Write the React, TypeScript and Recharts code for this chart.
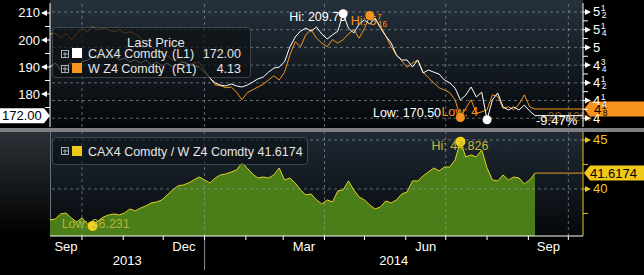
import React from 'react';
import { ComposedChart, Line, Area, XAxis, YAxis, ReferenceLine, ReferenceDot } from 'recharts';

// ---------- data ----------
const dates = [
  '2013-09-07', '2013-09-11', '2013-09-15', '2013-09-19', '2013-09-23', '2013-09-27', '2013-10-01', '2013-10-05', '2013-10-09', '2013-10-13',
  '2013-10-17', '2013-10-21', '2013-10-25', '2013-10-29', '2013-11-02', '2013-11-06', '2013-11-10', '2013-11-14', '2013-11-18', '2013-11-22',
  '2013-11-26', '2013-11-30', '2013-12-04', '2013-12-08', '2013-12-12', '2013-12-16', '2013-12-20', '2013-12-24', '2013-12-28', '2014-01-01',
  '2014-01-05', '2014-01-09', '2014-01-13', '2014-01-17', '2014-01-21', '2014-01-25', '2014-01-29', '2014-02-02', '2014-02-06', '2014-02-10',
  '2014-02-14', '2014-02-18', '2014-02-22', '2014-02-26', '2014-03-02', '2014-03-06', '2014-03-10', '2014-03-14', '2014-03-18', '2014-03-22',
  '2014-03-26', '2014-03-30', '2014-04-03', '2014-04-07', '2014-04-11', '2014-04-15', '2014-04-19', '2014-04-23', '2014-04-27', '2014-05-01',
  '2014-05-05', '2014-05-09', '2014-05-13', '2014-05-17', '2014-05-21', '2014-05-25', '2014-05-29', '2014-06-02', '2014-06-06', '2014-06-10',
  '2014-06-14', '2014-06-18', '2014-06-22', '2014-06-26', '2014-06-30', '2014-07-04', '2014-07-08', '2014-07-12', '2014-07-16', '2014-07-20',
  '2014-07-24', '2014-07-28', '2014-08-01', '2014-08-05', '2014-08-09', '2014-08-13', '2014-08-17', '2014-08-21', '2014-08-25', '2014-08-29',
  '2014-09-02', '2014-09-06',
];

// CAX4 Comdty (L1)
const cax4 = [
  190.0, 191.5, 188.9, 190.4, 191.5, 190.0, 191.9, 192.6, 193.7, 193.3,
  194.4, 193.3, 194.1, 192.6, 193.3, 191.9, 192.6, 191.5, 192.6, 190.7,
  191.9, 190.4, 191.5, 190.0, 191.1, 191.9, 191.1, 190.4, 190.0, 188.1,
  185.9, 184.1, 183.3, 183.0, 183.7, 183.0, 182.6, 183.3, 184.4, 185.6,
  186.3, 188.1, 189.6, 190.0, 191.9, 197.4, 201.1, 203.3, 204.4, 203.3,
  204.8, 202.2, 200.4, 201.9, 203.3, 209.75, 204.4, 202.6, 205.9, 207.4,
  205.9, 208.1, 204.4, 201.5, 198.9, 194.4, 192.6, 192.6, 190.0, 192.6,
  187.8, 188.9, 188.1, 187.4, 185.2, 184.1, 182.2, 177.8, 179.6, 182.6,
  178.9, 180.7, 170.5, 177.8, 180.4, 175.2, 174.1, 175.2, 174.1, 175.9,
  173.7, 172.0,
];

// W Z4 Comdty (R1)
const wz4 = [
  5.19, 5.20, 5.13, 5.20, 5.11, 5.19, 5.27, 5.22, 5.29, 5.25,
  5.27, 5.25, 5.22, 5.25, 5.20, 5.22, 5.19, 5.13, 5.06, 5.01,
  4.96, 4.92, 4.88, 4.82, 4.85, 4.79, 4.75, 4.78, 4.79, 4.68,
  4.57, 4.47, 4.46, 4.43, 4.44, 4.37, 4.26, 4.36, 4.40, 4.44,
  4.48, 4.54, 4.60, 4.54, 4.65, 4.89, 5.08, 5.01, 5.18, 5.25,
  5.13, 5.06, 5.01, 5.11, 5.06, 5.11, 5.19, 5.25, 5.13, 5.27,
  5.45, 5.40, 5.30, 5.16, 5.01, 4.89, 4.81, 4.72, 4.78, 4.82,
  4.65, 4.57, 4.50, 4.43, 4.40, 4.36, 4.26, 4.01, 4.14, 4.26,
  4.07, 4.09, 4.12, 4.33, 4.31, 4.14, 4.16, 4.12, 4.20, 4.33,
  4.16, 4.13,
];

// CAX4 Comdty / W Z4 Comdty
const ratio = [
  36.84, 36.94, 37.45, 37.55, 37.04, 36.63, 37.04, 36.43, 36.231, 36.73,
  37.14, 37.35, 37.45, 37.35, 37.55, 37.96, 37.76, 38.06, 38.27, 38.57,
  38.67, 38.88, 39.39, 39.90, 40.31, 40.41, 40.61, 40.92, 41.22, 40.92,
  40.61, 41.12, 41.43, 41.53, 41.73, 41.94, 42.65, 42.14, 41.53, 41.12,
  41.22, 41.12, 41.43, 42.14, 40.92, 41.12, 40.61, 39.90, 39.39, 39.49,
  38.88, 38.47, 38.88, 38.67, 39.80, 39.90, 40.82, 39.90, 39.18, 38.88,
  38.37, 37.96, 38.16, 38.78, 38.57, 38.88, 39.49, 39.69, 40.82, 40.82,
  41.33, 41.73, 42.14, 41.84, 42.24, 42.24, 42.96, 44.826, 43.27, 43.47,
  43.27, 43.98, 42.14, 40.92, 40.82, 41.43, 40.92, 41.22, 41.12, 40.51,
  40.92, 41.6174,
];

const leftTickValues = [175, 180, 185, 190, 195, 200, 205, 210];
const leftLabelValues = [180, 190, 200, 210];
const rightTickValues = [4, 4.125, 4.25, 4.375, 4.5, 4.625, 4.75, 4.875, 5, 5.125, 5.25, 5.375, 5.5];
const ratioTickValues = [37.5, 40, 42.5, 45];
const ratioLabelValues = [40, 45];
const monthLabelNames = ['Sep', 'Dec', 'Mar', 'Jun', 'Sep'];
const monthLabelStarts = ['2013-09-01', '2013-12-01', '2014-03-01', '2014-06-01', '2014-09-01'];
const yearLabels = [2013, 2014];
const gridQuarterStarts = ['2013-10-01', '2014-01-01', '2014-04-01', '2014-07-01', '2014-10-01'];
const xStart = '2013-09-07';
const xEnd = '2014-10-12';
const nameCA = 'CAX4 Comdty';
const nameW = 'W Z4 Comdty';

// ---------- helpers ----------
const FONT = '"Liberation Sans", Arial, sans-serif';
const WHITE = '#ffffff';
const ORANGE = '#f7931e';
const YELLOW = '#efc81a';
const GRID = '#9aa4ae';
const PL = 50;
const PR = 583;
const AXIS_Y = 236;

const ts = (s: string) => Date.parse(s + 'T00:00:00Z');
const X_MIN = ts(xStart);
const X_MAX = ts(xEnd);

const data = dates.map((d, i) => ({ t: ts(d), ca: cax4[i], w: wz4[i], r: ratio[i] }));
const last = data[data.length - 1];
const first = data[0];

const argMax = (a: number[]) => a.reduce((b, v, i) => (v > a[b] ? i : b), 0);
const argMin = (a: number[]) => a.reduce((b, v, i) => (v < a[b] ? i : b), 0);
const caHi = argMax(cax4), caLo = argMin(cax4);
const wHi = argMax(wz4), wLo = argMin(wz4);
const rHi = argMax(ratio), rLo = argMin(ratio);

const pct = (a: number, b: number) => `${((b / a - 1) * 100).toFixed(2)}%`;

function frac(v: number, den: number) {
  const n = Math.round(v * den);
  const i = Math.floor(n / den);
  let r = n - i * den;
  let d = den;
  while (r && r % 2 === 0 && d % 2 === 0) { r /= 2; d /= 2; }
  return { i, r, d };
}

const CW: Record<string, number> = { ' ': 0.278, ':': 0.278, '.': 0.278, H: 0.722, i: 0.222, L: 0.556, o: 0.556, w: 0.722 };
const textW = (s: string, size: number) => s.split('').reduce((a, c) => a + (CW[c] ?? 0.556) * size, 0);

function FracText({ x, y, prefix = '', v, den, fill, size = 13, opacity = 1 }: any) {
  const f = frac(v, den);
  const main = `${prefix}${f.i}`;
  const w = textW(main, size);
  const s = size * 0.66;
  return (
    <g opacity={opacity} fontFamily={FONT}>
      <text x={x} y={y} fill={fill} fontSize={size}>{main}</text>
      {f.r ? <text x={x + w + 0.5} y={y - 5} fill={fill} fontSize={s}>{f.r}</text> : null}
      {f.r ? <text x={x + w + 1.5} y={y + 2} fill={fill} fontSize={s}>{f.d}</text> : null}
    </g>
  );
}

// x-axis ticks
const boundaries: number[] = [];
for (let k = 0; k < 30; k++) {
  const t = Date.UTC(2013, 8 + k, 1);
  if (t > X_MAX) break;
  if (t > X_MIN) boundaries.push(t);
}
const tickKind = new Map<number, { kind: string; text?: string }>();
boundaries.forEach((t) => tickKind.set(t, { kind: new Date(t).getUTCMonth() === 0 ? 'year' : 'b' }));
monthLabelStarts.forEach((s, i) => {
  const a = ts(s);
  const d = new Date(a);
  const b = Date.UTC(d.getUTCFullYear(), d.getUTCMonth() + 1, 1);
  const mid = (Math.max(a, X_MIN) + Math.min(b, X_MAX)) / 2;
  tickKind.set(mid, { kind: 'm', text: monthLabelNames[i] });
});
yearLabels.forEach((y) => {
  const mid = (Math.max(Date.UTC(y, 0, 1), X_MIN) + Math.min(Date.UTC(y + 1, 0, 1), X_MAX)) / 2;
  tickKind.set(mid, { kind: 'y', text: String(y) });
});
const xTicks = Array.from(tickKind.keys()).sort((a, b) => a - b);

function XTick(props: any) {
  const { x, payload } = props;
  const k = tickKind.get(payload.value);
  if (!k) return null;
  if (k.kind === 'b') return <line x1={x} x2={x} y1={AXIS_Y} y2={AXIS_Y + 4} stroke={WHITE} />;
  if (k.kind === 'year')
    return (
      <g>
        <line x1={x} x2={x} y1={AXIS_Y} y2={AXIS_Y + 4} stroke={WHITE} />
        <line x1={x} x2={x} y1={AXIS_Y + 4} y2={270} stroke="#8a8a8a" />
      </g>
    );
  if (k.kind === 'm')
    return <text x={x} y={AXIS_Y + 15} textAnchor="middle" fill={WHITE} fontSize={13} fontFamily={FONT}>{k.text}</text>;
  return <text x={x} y={AXIS_Y + 29} textAnchor="middle" fill={WHITE} fontSize={13} fontFamily={FONT}>{k.text}</text>;
}

function LeftTick(props: any) {
  const { y, payload } = props;
  const v = payload.value;
  if (leftLabelValues.includes(v)) {
    return (
      <g>
        <text x={40} y={y + 4.5} textAnchor="end" fill={WHITE} fontSize={13} fontFamily={FONT}>{v}</text>
        <path d={`M41,${y} L47,${y - 3} L47,${y + 3} Z`} fill={WHITE} />
        <line x1={47} x2={PL} y1={y} y2={y} stroke={WHITE} />
      </g>
    );
  }
  return <line x1={45} x2={PL} y1={y} y2={y} stroke={WHITE} />;
}

function RightTick(props: any) {
  const { y, payload } = props;
  const v = payload.value;
  if (Number.isInteger(v * 4)) {
    return (
      <g>
        <line x1={PR} x2={585} y1={y} y2={y} stroke={WHITE} />
        <path d={`M591,${y} L585,${y - 3} L585,${y + 3} Z`} fill={WHITE} />
        <FracText x={593} y={y + 4.5} v={v} den={4} fill={WHITE} />
      </g>
    );
  }
  return <line x1={PR} x2={588} y1={y} y2={y} stroke={WHITE} />;
}

function RatioTick(props: any) {
  const { y, payload } = props;
  const v = payload.value;
  if (ratioLabelValues.includes(v)) {
    return (
      <g>
        <line x1={PR} x2={585} y1={y} y2={y} stroke={YELLOW} />
        <path d={`M591,${y} L585,${y - 3} L585,${y + 3} Z`} fill={YELLOW} />
        <text x={593} y={y + 4.5} fill={YELLOW} fontSize={13} fontFamily={FONT}>{v}</text>
      </g>
    );
  }
  return <line x1={PR} x2={588} y1={y} y2={y} stroke={YELLOW} />;
}

const center = (vb: any) => ({ cx: vb.x + vb.width / 2, cy: vb.y + vb.height / 2 });

const WhiteExt = (props: any) => {
  const y = props.viewBox.y;
  return (
    <g fontFamily={FONT}>
      <text x={props.viewBox.x + 1} y={y + 9.5} fill={WHITE} fontSize={13}>{pct(first.ca, last.ca)}</text>
      <path d={`M0,${y - 7.5} H44 L50,${y} L44,${y + 7.5} H0 Z`} fill={WHITE} />
      <text x={2} y={y + 4.5} fill="#000" fontSize={13}>{last.ca.toFixed(2)}</text>
    </g>
  );
};

const OrangeExt = (props: any) => {
  const y = props.viewBox.y;
  return (
    <g fontFamily={FONT}>
      <text x={props.viewBox.x + 8} y={y + 12} fill={ORANGE} fontSize={13} opacity={0.55}>{pct(first.w, last.w)}</text>
      <path d={`M${PR + 1},${y} L590,${y - 7.5} H644 V${y + 7.5} H590 Z`} fill={ORANGE} />
      <FracText x={594} y={y + 4.5} v={last.w} den={8} fill="#000" />
    </g>
  );
};

const YellowExt = (props: any) => {
  const y = props.viewBox.y;
  return (
    <g fontFamily={FONT}>
      <path d={`M${PR + 1},${y} L590,${y - 7.5} H644 V${y + 7.5} H590 Z`} fill={YELLOW} />
      <text x={590} y={y + 4.5} fill="#000" fontSize={13}>{last.r.toFixed(4)}</text>
    </g>
  );
};

const textLabel = (text: string, dx: number, dy: number, anchor: string, fill: string, size = 12.5) => (props: any) => {
  const { cx, cy } = center(props.viewBox);
  return <text x={cx + dx} y={cy + dy} textAnchor={anchor} fill={fill} fontSize={size} fontFamily={FONT}>{text}</text>;
};

const wHiLabel = (props: any) => {
  const { cx, cy } = center(props.viewBox);
  return <FracText x={cx - 19} y={cy + 9} prefix="Hi: " v={wz4[wHi]} den={16} fill={ORANGE} size={12.5} />;
};
const wLoLabel = (props: any) => {
  const { cx, cy } = center(props.viewBox);
  return <FracText x={cx - 19} y={cy - 2} prefix="Low: " v={wz4[wLo]} den={16} fill={ORANGE} size={12.5} />;
};

function PlusBox({ x, y }: any) {
  return (
    <g>
      <rect x={x + 0.5} y={y + 0.5} width={7} height={7} fill="none" stroke="#a9b0b7" />
      <line x1={x + 2} x2={x + 7} y1={y + 4} y2={y + 4} stroke="#a9b0b7" />
      <line x1={x + 4} x2={x + 4} y1={y + 2} y2={y + 7} stroke="#a9b0b7" />
    </g>
  );
}

export default function App() {
  const dash = { stroke: GRID, strokeOpacity: 0.6, strokeDasharray: '3 3', strokeWidth: 1 };
  return (
    <div style={{ position: 'absolute', left: 0, top: 0, width: 644, height: 275, background: '#000', overflow: 'hidden', fontFamily: FONT }}>
      {/* panel backgrounds */}
      <div style={{ position: 'absolute', left: PL, top: 0, width: PR - PL, height: 128, background: 'linear-gradient(#26313c, #04070a)' }} />
      <div style={{ position: 'absolute', left: 0, top: 128, width: 644, height: 4, background: '#7e8083' }} />
      <div style={{ position: 'absolute', left: 0, top: 132, width: PL, height: AXIS_Y - 132, background: 'linear-gradient(#2c3238, #000)' }} />
      <div style={{ position: 'absolute', left: PL, top: 132, width: PR - PL, height: AXIS_Y - 132, background: 'linear-gradient(#1f2a34, #05080b)', borderLeft: '1px solid #6a7077', boxSizing: 'border-box' }} />

      {/* top panel */}
      <ComposedChart width={644} height={275} data={data} margin={{ top: 3, right: 0, bottom: 148, left: 0 }} style={{ position: 'absolute', left: 0, top: 0 }}>
        <XAxis dataKey="t" type="number" domain={[X_MIN, X_MAX]} hide height={0} allowDataOverflow />
        <YAxis yAxisId="L" orientation="left" width={PL} domain={[167.8, 213.7]} ticks={leftTickValues} interval={0} tick={<LeftTick />} tickLine={false} axisLine={{ stroke: WHITE }} allowDataOverflow />
        <YAxis yAxisId="R" orientation="right" width={644 - PR} domain={[3.876, 5.627]} ticks={rightTickValues} interval={0} tick={<RightTick />} tickLine={false} axisLine={{ stroke: WHITE }} allowDataOverflow />
        {rightTickValues.filter((v) => Number.isInteger(v * 4)).map((v) => (
          <ReferenceLine key={`h${v}`} yAxisId="R" y={v} {...dash} />
        ))}
        {gridQuarterStarts.map((s) => (
          <ReferenceLine key={`v${s}`} yAxisId="R" x={ts(s)} {...dash} />
        ))}
        <Line yAxisId="R" dataKey="w" stroke={ORANGE} strokeWidth={1} dot={false} isAnimationActive={false} />
        <Line yAxisId="L" dataKey="ca" stroke={WHITE} strokeWidth={1} dot={false} isAnimationActive={false} />
        <ReferenceLine yAxisId="R" segment={[{ x: last.t, y: last.w }, { x: X_MAX, y: last.w }]} stroke={ORANGE} label={OrangeExt} />
        <ReferenceLine yAxisId="L" segment={[{ x: last.t, y: last.ca }, { x: X_MAX, y: last.ca }]} stroke={WHITE} label={WhiteExt} />
        <ReferenceDot yAxisId="L" x={data[caHi].t} y={cax4[caHi]} r={4.5} fill={WHITE} stroke="none" label={textLabel(`Hi: ${cax4[caHi].toFixed(2)}`, 3, 7, 'end', WHITE)} />
        <ReferenceDot yAxisId="R" x={data[wHi].t} y={wz4[wHi]} r={4.5} fill={ORANGE} stroke="none" label={wHiLabel} />
        <ReferenceDot yAxisId="L" x={data[caLo].t} y={cax4[caLo]} r={4.5} fill={WHITE} stroke="none" label={textLabel(`Low: ${cax4[caLo].toFixed(2)}`, -46, -3, 'end', WHITE)} />
        <ReferenceDot yAxisId="R" x={data[wLo].t} y={wz4[wLo]} r={4.5} fill={ORANGE} stroke="none" label={wLoLabel} />
      </ComposedChart>

      {/* bottom panel */}
      <ComposedChart width={644} height={275} data={data} margin={{ top: 132, right: 0, bottom: 1, left: PL }} style={{ position: 'absolute', left: 0, top: 0 }}>
        <XAxis dataKey="t" type="number" domain={[X_MIN, X_MAX]} ticks={xTicks} interval={0} tick={<XTick />} tickLine={false} axisLine={{ stroke: WHITE }} height={38} allowDataOverflow />
        <YAxis yAxisId="R" orientation="right" width={644 - PR} domain={[35.2, 45.81]} ticks={ratioTickValues} interval={0} tick={<RatioTick />} tickLine={false} axisLine={{ stroke: YELLOW }} allowDataOverflow />
        <Area yAxisId="R" dataKey="r" type="linear" stroke="#e3d324" strokeWidth={1} fill="#4b7d18" fillOpacity={1} dot={false} isAnimationActive={false} />
        {ratioLabelValues.map((v) => (
          <ReferenceLine key={`rh${v}`} yAxisId="R" y={v} {...dash} />
        ))}
        {gridQuarterStarts.map((s) => (
          <ReferenceLine key={`rv${s}`} yAxisId="R" x={ts(s)} {...dash} />
        ))}
        <ReferenceLine yAxisId="R" segment={[{ x: last.t, y: last.r }, { x: X_MAX, y: last.r }]} stroke="#e39b2d" label={YellowExt} />
        <ReferenceDot yAxisId="R" x={data[rHi].t} y={ratio[rHi]} r={5} fill="#f2d21c" stroke="none" label={textLabel(`Hi: ${ratio[rHi].toFixed(3)}`, -29, 8, 'start', '#c9b53a')} />
        <ReferenceDot yAxisId="R" x={data[rLo].t} y={ratio[rLo]} r={5} fill="#f2d21c" stroke="none" label={textLabel(`Low: ${ratio[rLo].toFixed(3)}`, -31, 2, 'start', '#b9b63c')} />
      </ComposedChart>

      {/* legends */}
      <svg width={644} height={275} style={{ position: 'absolute', left: 0, top: 0, pointerEvents: 'none' }} fontFamily={FONT}>
        <rect x={52.5} y={27.5} width={198} height={50} rx={3} fill="rgba(12,16,20,0.72)" stroke="rgba(95,105,115,0.55)" />
        <text x={127} y={47} fill="#e6e6e6" fontSize={13}>Last Price</text>
        <PlusBox x={61} y={50} />
        <rect x={72} y={48} width={10} height={10} fill={WHITE} />
        <text x={88} y={58} fill="#e6e6e6" fontSize={12.5}>{nameCA}</text>
        <text x={172} y={58} fill="#e6e6e6" fontSize={12.5}>(L1)</text>
        <text x={241} y={58} fill="#e6e6e6" fontSize={12.5} textAnchor="end">{last.ca.toFixed(2)}</text>
        <PlusBox x={61} y={65} />
        <rect x={72} y={63} width={10} height={10} fill={ORANGE} />
        <text x={88} y={73} fill="#e6e6e6" fontSize={12.5}>{nameW}</text>
        <text x={172} y={73} fill="#e6e6e6" fontSize={12.5}>(R1)</text>
        <text x={241} y={73} fill="#e6e6e6" fontSize={12.5} textAnchor="end">{last.w.toFixed(2)}</text>

        <rect x={52.5} y={137.5} width={255} height={27} rx={3} fill="rgba(12,16,20,0.62)" stroke="rgba(95,105,115,0.55)" />
        <PlusBox x={61} y={147} />
        <rect x={72} y={146} width={10} height={10} fill={YELLOW} />
        <text x={88} y={156} fill="#e6e6e6" fontSize={12.5}>{`${nameCA} / ${nameW} ${last.r.toFixed(4)}`}</text>
      </svg>
    </div>
  );
}
